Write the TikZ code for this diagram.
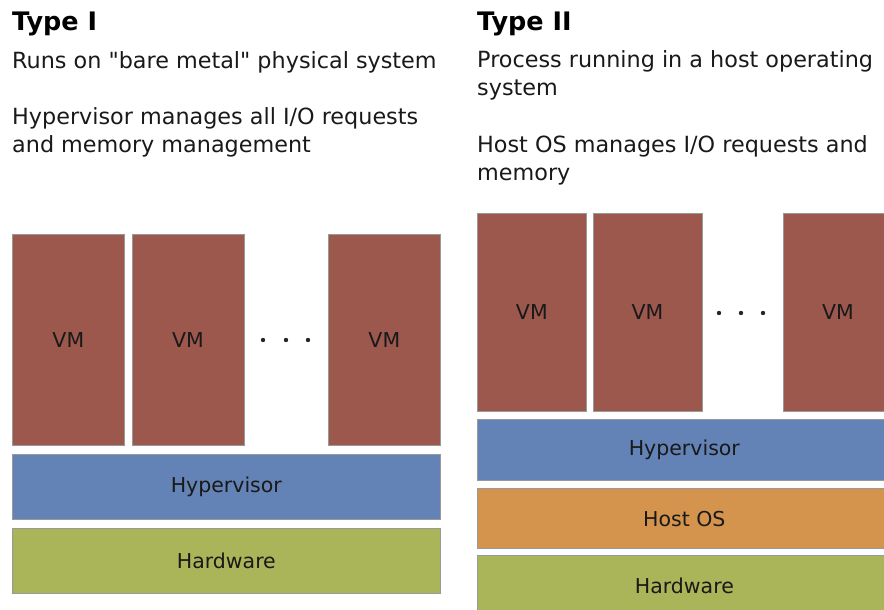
\documentclass[tikz,border=0pt]{standalone}
\usepackage{fontspec}
\setmainfont{DejaVu Sans}
\newfontfamily\plainsans{DejaVu Sans}
\usepackage{xcolor}
\usepackage{tikz}
\usetikzlibrary{positioning,calc}

\definecolor{vmred}{RGB}{157,88,78}
\definecolor{hypblue}{RGB}{99,130,181}
\definecolor{hwgreen}{RGB}{170,181,89}
\definecolor{osorange}{RGB}{213,148,77}

\begin{document}
\begin{tikzpicture}[x=1pt, y=1pt,
  layer/.style={draw=black!40, line width=0.7pt, rectangle, inner sep=0pt, anchor=north west, font=\fontsize{20.5}{24}\selectfont, text=black!90},
  vmleft/.style={layer, fill=vmred, minimum width=112pt, minimum height=211pt},
  vmright/.style={layer, fill=vmred, minimum width=109pt, minimum height=198pt},
  heading/.style={font=\fontsize{25.5}{30}\selectfont\bfseries, anchor=base west, inner sep=0pt},
  blurb/.style={font=\plainsans\fontsize{22.3}{28}\selectfont, align=left, anchor=north west, inner sep=0pt, text=black!90}]
  \useasboundingbox (0,0) rectangle (884,610);
  \clip (0,0) rectangle (884,610);

  % Type I text
  \node[heading] (title1) at (12,579) {Type I};
  \node[blurb] (runs) at (12,559) {Runs on "bare metal" physical system};
  \node[blurb] (manage1) at (12,503) {Hypervisor manages all I/O requests\\and memory management};

  % Type II text
  \node[heading] (title2) at (477,579) {Type II};
  \node[blurb] (process) at (477,560) {Process running in a host operating\\system};
  \node[blurb] (manage2) at (477,475) {Host OS manages I/O requests and\\memory};

  % Type I stack
  \node[vmleft] (vm1) at (12,376) {VM};
  \node[vmleft, right=7pt of vm1.north east, anchor=north west] (vm2) {VM};
  \node[vmleft] (vm3) at (328,376) {VM};
  \node[layer, fill=hypblue, minimum width=428pt, minimum height=65pt] (hyp1) at ($(vm1.south west)+(0,-8)$) {Hypervisor};
  \node[layer, fill=hwgreen, minimum width=428pt, minimum height=65pt] (hw1) at ($(hyp1.south west)+(0,-9)$) {Hardware};
  \foreach \x in {263,286,308} \fill[black!85] (\x,270) circle (2.2pt);

  % Type II stack
  \node[vmright] (vm4) at (477,397) {VM};
  \node[vmright, right=6pt of vm4.north east, anchor=north west] (vm5) {VM};
  \node[vmright] (vm6) at (783,397) {VM};
  \node[layer, fill=hypblue, minimum width=414pt, minimum height=61pt] (hyp2) at ($(vm4.south west)+(0,-7)$) {Hypervisor};
  \node[layer, fill=osorange, minimum width=414pt, minimum height=60pt] (host) at ($(hyp2.south west)+(0,-8)$) {Host OS};
  \node[layer, fill=hwgreen, minimum width=414pt, minimum height=60pt] (hw2) at ($(host.south west)+(0,-6)$) {Hardware};
  \foreach \x in {719,741,763} \fill[black!85] (\x,297) circle (2.2pt);
\end{tikzpicture}
\end{document}
